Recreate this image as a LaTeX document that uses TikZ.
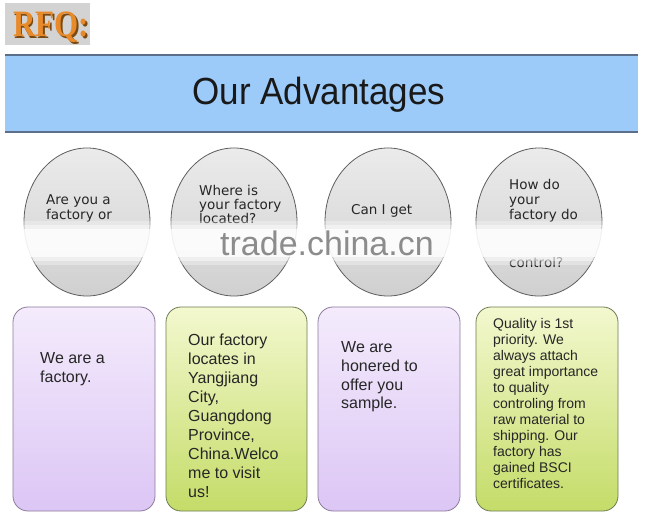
\documentclass[tikz,border=0pt]{standalone}
\usepackage{fontspec}
\usepackage{graphicx}
\setmainfont{Liberation Sans}
\newfontfamily\serifb{Liberation Serif}
\newfontfamily\handf{DejaVu Sans}
\usetikzlibrary{shapes.geometric}
\definecolor{rfqgray}{HTML}{D3D3D3}
\definecolor{rfqorange}{HTML}{E8892A}
\definecolor{rfqshadow}{HTML}{7A4A12}
\definecolor{bannerblue}{HTML}{9DCBF9}
\definecolor{bannerline}{HTML}{5C6F8A}
\definecolor{ellline}{HTML}{5E5E5E}
\definecolor{elltop}{HTML}{EBEBEB}
\definecolor{ellmid}{HTML}{F5F5F5}
\definecolor{ellbot}{HTML}{D0D0D0}
\definecolor{purtop}{HTML}{F4EBFC}
\definecolor{purbot}{HTML}{DCC6F5}
\definecolor{purline}{HTML}{8C7C9C}
\definecolor{grntop}{HTML}{F3F8CF}
\definecolor{grnbot}{HTML}{C4DC68}
\definecolor{grnline}{HTML}{6E7C55}
\definecolor{wmgray}{HTML}{8C8C8C}
\begin{document}
\begin{tikzpicture}[x=1pt,y=-1pt,
  qell/.style={ellipse, draw=ellline, line width=0.8pt, minimum width=126pt, minimum height=148pt, inner sep=0pt,
     top color=elltop, middle color=ellmid, bottom color=ellbot},
  purbox/.style={draw=purline, line width=0.8pt, rounded corners=15pt, top color=purtop, bottom color=purbot},
  grnbox/.style={draw=grnline, line width=0.8pt, rounded corners=15pt, top color=grntop, bottom color=grnbot},
  qtext/.style={anchor=base west, inner sep=0pt, align=left, font=\handf\fontsize{13.5}{15}\selectfont, text=black!85},
  atext/.style={anchor=base west, inner sep=0pt, align=left, font=\fontsize{16}{19}\selectfont, text=black!85},
  stext/.style={anchor=base west, inner sep=0pt, align=left, font=\fontsize{14}{16}\selectfont, text=black!85}
]
\useasboundingbox (0,0) rectangle (654,513);
\fill[white] (0,0) rectangle (654,513);

% RFQ label
\node[fill=rfqgray, minimum width=85pt, minimum height=42pt, inner sep=0pt, anchor=north west] (rfqbox) at (5,3) {};
\node[anchor=base west, inner sep=0pt, text=rfqshadow, font=\serifb\bfseries\fontsize{31}{31}\selectfont] (rfqsh) at (14.5,38.5) {\scalebox{1}[1.2]{RFQ:}};
\node[anchor=base west, inner sep=0pt, text=rfqorange, font=\serifb\bfseries\fontsize{31}{31}\selectfont] (rfq) at (13,37) {\scalebox{1}[1.2]{RFQ:}};

% banner
\node[fill=bannerblue, minimum width=633pt, minimum height=77pt, inner sep=0pt, anchor=north west] (banner) at (5,55) {};
\draw[bannerline, line width=2pt] (banner.north west) -- (banner.north east);
\draw[bannerline, line width=2pt] (banner.south west) -- (banner.south east);
\node[anchor=base, inner sep=0pt, font=\fontsize{35}{35}\selectfont, text=black!90] (title) at (319,105) {\scalebox{1}[1.08]{Our Advantages}};

% question ellipses
\node[qell] (e1) at (87,222) {};
\node[qell] (e2) at (234,222) {};
\node[qell] (e3) at (388,222) {};
\node[qell] (e4) at (539,222) {};

% (anchor base of a multi-line node = baseline of its last line)
\node[qtext] (q1) at (46,220) {Are you a\\factory or};
\node[qtext, font=\handf\fontsize{13.5}{14}\selectfont] (q2) at (199,224) {Where is\\your factory\\located?};
\node[qtext] (q3) at (351,215) {Can I get};
\node[qtext] (q4) at (509,220) {How do\\your\\factory do};
\node[qtext] (q4b) at (509,268) {control?};

% blurred band (soft edges) and watermark
\fill[white, opacity=0.3] (18,221) rectangle (612,265);
\fill[white, opacity=0.45] (18,225) rectangle (612,261);
\fill[white, opacity=0.75] (18,229) rectangle (612,257);
\node[anchor=base west, inner sep=0pt, text=wmgray, font=\fontsize{34}{34}\selectfont] (wm) at (220,256) {trade.china.cn};

% answer boxes
\draw[purbox] (13,307) rectangle (155,511);
\draw[grnbox] (166,307) rectangle (307,511);
\draw[purbox] (318,307) rectangle (460,511);
\draw[grnbox] (476,307) rectangle (618,511);

\node[atext] (a1) at (40,382) {We are a\\factory.};
\node[atext] (a2) at (188,497) {Our factory\\locates in\\Yangjiang\\City,\\Guangdong\\Province,\\China.Welco\\me to visit\\us!};
\node[atext] (a3) at (341,409) {We are\\honered to\\offer you\\sample.};
\node[stext] (a4) at (493,488) {Quality is 1st\\priority. We\\always attach\\great importance\\to quality\\controling from\\raw material to\\shipping. Our\\factory has\\gained BSCI\\certificates.};
\end{tikzpicture}
\end{document}
